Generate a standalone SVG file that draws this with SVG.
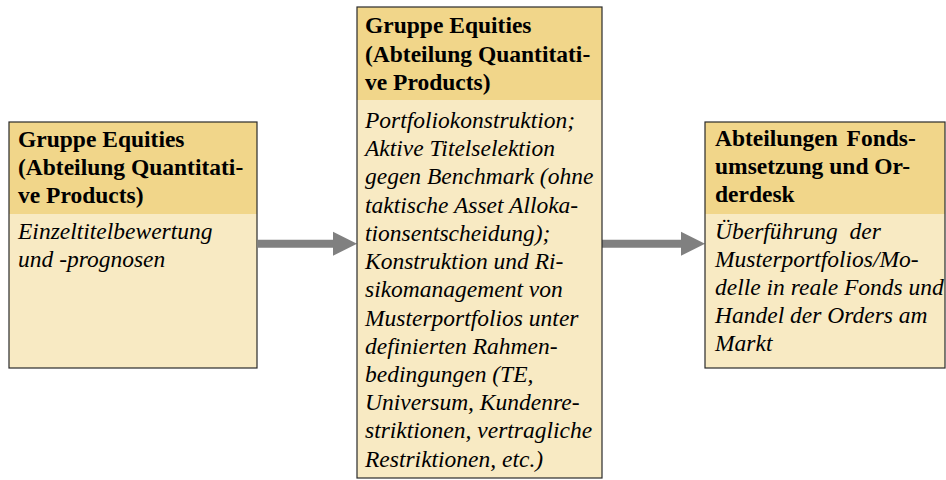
<svg xmlns="http://www.w3.org/2000/svg" width="946" height="480" viewBox="0 0 946 480">
<style>
.hd{fill:#F1D68A}
.bd{fill:#F8EAC3}
.fr{fill:none;stroke:#2a2a2a;stroke-width:1.2}
.h{font-family:'Liberation Serif',Tinos,'Times New Roman',serif;font-weight:bold;font-size:23.5px;fill:#000}
.b{font-family:'Liberation Serif',Tinos,'Times New Roman',serif;font-style:italic;font-size:23.5px;fill:#000}
.ar{stroke:#808080;stroke-width:8;fill:none}
.ah{fill:#808080}
</style>
<rect width="946" height="480" fill="#fff"/>
<g id="connectors">
<line class="ar" x1="258" y1="243.7" x2="336" y2="243.7"/>
<polygon class="ah" points="333,231.7 357,243.7 333,255.7"/>
<line class="ar" x1="602" y1="243.7" x2="684" y2="243.7"/>
<polygon class="ah" points="681,231.7 705,243.7 681,255.7"/>
</g>
<g id="node1">
<rect class="bd" x="9" y="122" width="248" height="246"/>
<rect class="hd" x="9" y="122" width="248" height="92"/>
<rect class="fr" x="9" y="122" width="248" height="246"/>
<text class="h" x="18" y="147">Gruppe Equities</text>
<text class="h" x="18" y="175">(Abteilung Quantitati-</text>
<text class="h" x="18" y="203">ve Products)</text>
<text class="b" x="18" y="239">Einzeltitelbewertung</text>
<text class="b" x="18" y="267">und -prognosen</text>
</g>
<g id="node2">
<rect class="bd" x="357" y="7" width="245" height="471"/>
<rect class="hd" x="357" y="7" width="245" height="93"/>
<rect class="fr" x="357" y="7" width="245" height="471"/>
<text class="h" x="365" y="33">Gruppe Equities</text>
<text class="h" x="365" y="62">(Abteilung Quantitati-</text>
<text class="h" x="365" y="90">ve Products)</text>
<text class="b" x="365" y="128">Portfoliokonstruktion;</text>
<text class="b" x="365" y="156">Aktive Titelselektion</text>
<text class="b" x="365" y="184">gegen Benchmark (ohne</text>
<text class="b" x="365" y="213">taktische Asset Alloka-</text>
<text class="b" x="365" y="241">tionsentscheidung);</text>
<text class="b" x="365" y="269">Konstruktion und Ri-</text>
<text class="b" x="365" y="297">sikomanagement von</text>
<text class="b" x="365" y="326">Musterportfolios unter</text>
<text class="b" x="365" y="354">definierten Rahmen-</text>
<text class="b" x="365" y="382">bedingungen (TE,</text>
<text class="b" x="365" y="410">Universum, Kundenre-</text>
<text class="b" x="365" y="438">striktionen, vertragliche</text>
<text class="b" x="365" y="467">Restriktionen, etc.)</text>
</g>
<g id="node3">
<rect class="bd" x="705" y="122" width="240" height="246"/>
<rect class="hd" x="705" y="122" width="240" height="92"/>
<rect class="fr" x="705" y="122" width="240" height="246"/>
<text class="h" x="715" y="146" word-spacing="3">Abteilungen Fonds-</text>
<text class="h" x="715" y="174">umsetzung und Or-</text>
<text class="h" x="715" y="202">derdesk</text>
<text class="b" x="715" y="239" word-spacing="6">Überführung der</text>
<text class="b" x="715" y="267">Musterportfolios/Mo-</text>
<text class="b" x="715" y="295">delle in reale Fonds und</text>
<text class="b" x="715" y="323">Handel der Orders am</text>
<text class="b" x="715" y="351">Markt</text>
</g>
</svg>
